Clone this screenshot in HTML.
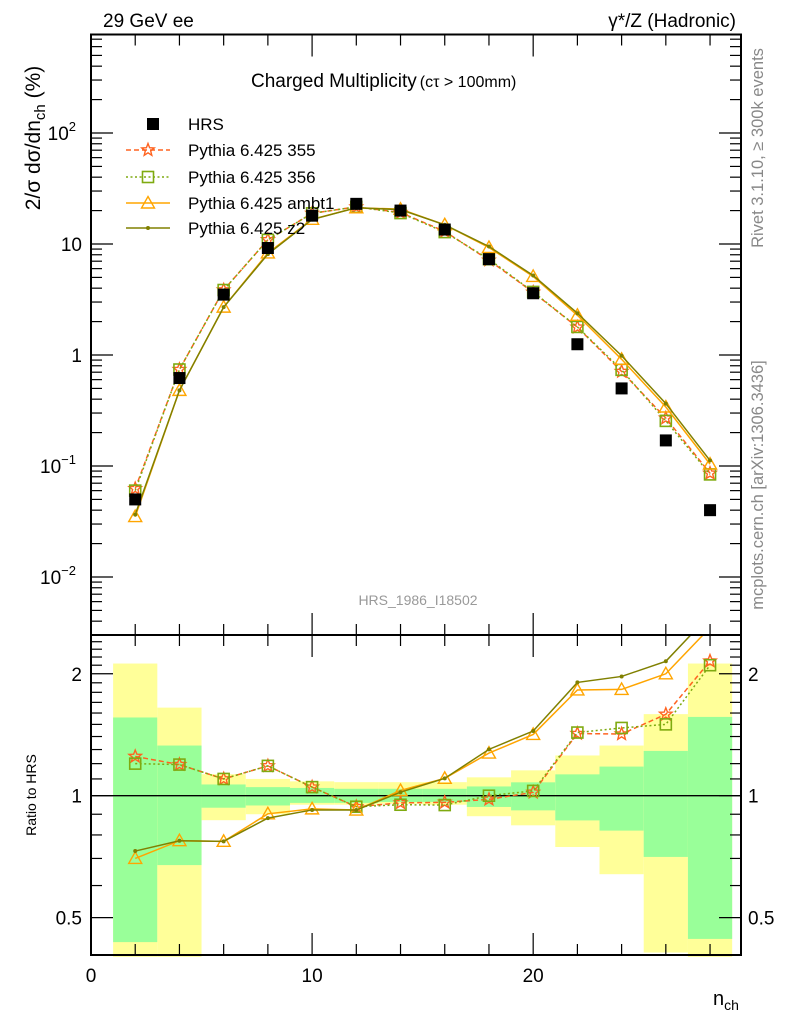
<!DOCTYPE html>
<html><head><meta charset="utf-8">
<style>
html,body{margin:0;padding:0;background:#fff;}
svg{display:block;font-family:"Liberation Sans",Arial,sans-serif;}
</style></head>
<body>
<svg id="chart" width="786" height="1024" viewBox="0 0 786 1024" xmlns="http://www.w3.org/2000/svg">
<g id="bands"></g>
<g id="series"></g>
<g id="axes"></g>
<text x="103" y="27" font-size="19">29 GeV ee</text>
<text x="736" y="27" font-size="19" text-anchor="end">γ*/Z (Hadronic)</text>
<text x="251" y="87" font-size="19">Charged Multiplicity<tspan font-size="16" dx="3">(cτ &gt; 100mm)</tspan></text>
<text transform="translate(40,138) rotate(-90)" font-size="21" text-anchor="middle">2/σ dσ/dn<tspan font-size="15" dy="5">ch</tspan><tspan dy="-5"> (%)</tspan></text>
<text transform="translate(36,795) rotate(-90)" font-size="14" text-anchor="middle">Ratio to HRS</text>
<text x="713" y="1005" font-size="20">n<tspan font-size="14" dy="5">ch</tspan></text>
<text transform="translate(763,148) rotate(-90)" font-size="16.5" fill="#888" text-anchor="middle">Rivet 3.1.10, ≥ 300k events</text>
<text transform="translate(763,485) rotate(-90)" font-size="16.5" fill="#888" text-anchor="middle">mcplots.cern.ch [arXiv:1306.3436]</text>
<text x="418" y="605" font-size="14" fill="#999" text-anchor="middle">HRS_1986_I18502</text>
<g id="legend"></g>
</svg>
<script>
const nch = [2,4,6,8,10,12,14,16,18,20,22,24,26,28];
const hrs = [0.05,0.62,3.5,9.2,18,23,20,13.5,7.3,3.6,1.25,0.5,0.17,0.04];
const py355 = [0.0625,0.74,3.85,10.9,18.9,21.6,19.2,13.0,7.15,3.67,1.78,0.71,0.27,0.086];
const py356 = [0.060,0.74,3.85,10.9,18.9,21.6,19.0,12.8,7.3,3.7,1.79,0.735,0.255,0.084];
const pyAmbt1 = [0.035,0.48,2.7,8.3,16.7,21.2,20.6,14.9,9.3,5.1,2.28,0.915,0.34,0.104];
const pyZ2 = [0.0365,0.48,2.7,8.1,16.6,21.2,20.4,14.9,9.5,5.2,2.38,0.985,0.365,0.112];
const yellowHi = [2.12,1.65,1.13,1.10,1.085,1.08,1.08,1.08,1.11,1.155,1.257,1.33,1.59,2.12];
const yellowLo = [0.3,0.3,0.87,0.90,0.95,0.95,0.955,0.95,0.89,0.845,0.747,0.64,0.41,0.3];
const greenHi = [1.56,1.33,1.066,1.05,1.045,1.04,1.04,1.04,1.054,1.079,1.129,1.18,1.29,1.565];
const greenLo = [0.435,0.674,0.934,0.946,0.96,0.96,0.965,0.965,0.938,0.92,0.869,0.82,0.706,0.443];
const xTickLabels = [0,10,20];
const NS='http://www.w3.org/2000/svg';
const L=91,R=741,T=34.5,MID=635,B=955;
const X0=0,X1=29.4;
function sx(v){return L+(v-X0)/(X1-X0)*(R-L);}
function sy(v){return 355-Math.log10(v)*111;}
function ry(v){return 795.7-Math.log10(v)*405;}
function mk(tag,attrs,parent){const e=document.createElementNS(NS,tag);for(const k in attrs)e.setAttribute(k,attrs[k]);parent.appendChild(e);return e;}
const bands=document.getElementById('bands'),ser=document.getElementById('series'),ax=document.getElementById('axes'),leg=document.getElementById('legend');
function clampR(v){return Math.max(0.4,Math.min(2.5,v));}
nch.forEach((n,i)=>{
  const x1=sx(n-1),x2=sx(n+1);
  let r=mk('rect',{x:x1,y:ry(clampR(yellowHi[i])),width:x2-x1,height:ry(clampR(yellowLo[i]))-ry(clampR(yellowHi[i])),fill:'#ffff99'},bands);
  
  
  let g=mk('rect',{x:x1,y:ry(clampR(greenHi[i])),width:x2-x1,height:ry(clampR(greenLo[i]))-ry(clampR(greenHi[i])),fill:'#99ff99'},bands);
  
  
});
let one=mk('line',{x1:L,x2:R,y1:ry(1),y2:ry(1),stroke:'#000','stroke-width':1.3},bands);


const defs=mk('defs',{},ser);
const c1=mk('clipPath',{id:'cTop'},defs);mk('rect',{x:L,y:T,width:R-L,height:MID-T},c1);
const c2=mk('clipPath',{id:'cBot'},defs);mk('rect',{x:L,y:MID,width:R-L,height:B-MID},c2);
function marker(kind,x,y,color,parent){
  let e;
  if(kind==='sq'){e=mk('rect',{x:x-6,y:y-6,width:12,height:12,fill:'#000'},parent);}
  else if(kind==='osq'){e=mk('rect',{x:x-5.5,y:y-5.5,width:11,height:11,fill:'none',stroke:color,'stroke-width':1.6},parent);}
  else if(kind==='tri'){e=mk('path',{d:`M${x},${y-6.5}L${x+6.5},${y+5}L${x-6.5},${y+5}Z`,fill:'none',stroke:color,'stroke-width':1.4},parent);}
  else if(kind==='star'){let p='';for(let k=0;k<10;k++){const a=-Math.PI/2+k*Math.PI/5,rr=k%2?2.8:6.5;p+=(k?'L':'M')+(x+rr*Math.cos(a)).toFixed(1)+','+(y+rr*Math.sin(a)).toFixed(1);}e=mk('path',{d:p+'Z',fill:'none',stroke:color,'stroke-width':1.4},parent);}
  else {e=mk('circle',{cx:x,cy:y,r:2,fill:color},parent);}
  return e;
}
const mcs=[
 {name:'355',vals:py355,color:'#ff6320',dash:'5,3',m:'star'},
 {name:'356',vals:py356,color:'#7faa10',dash:'2,2.5',m:'osq'},
 {name:'ambt1',vals:pyAmbt1,color:'#ffa500',dash:'',m:'tri'},
 {name:'z2',vals:pyZ2,color:'#808000',dash:'',m:'dot'}
];
const gT=mk('g',{'clip-path':'url(#cTop)'},ser),gB=mk('g',{'clip-path':'url(#cBot)'},ser);
mcs.forEach(s=>{
  const pts=nch.map((n,i)=>sx(n)+','+sy(s.vals[i])).join(' ');
  let pl=mk('polyline',{points:pts,fill:'none',stroke:s.color,'stroke-width':1.5,'stroke-dasharray':s.dash},gT);
  
  
  const rp=nch.map((n,i)=>sx(n)+','+ry(s.vals[i]/hrs[i])).join(' ');
  let rl=mk('polyline',{points:rp,fill:'none',stroke:s.color,'stroke-width':1.5,'stroke-dasharray':s.dash},gB);
  
  
  nch.forEach((n,i)=>{
    let a=marker(s.m,sx(n),sy(s.vals[i]),s.color,gT);
    
    
    let b=marker(s.m,sx(n),ry(s.vals[i]/hrs[i]),s.color,gB);
    
    
  });
});
nch.forEach((n,i)=>{
  let h=marker('sq',sx(n),sy(hrs[i]),'#000',gT);
  
  
});
mk('rect',{x:L,y:T,width:R-L,height:MID-T,fill:'none',stroke:'#000','stroke-width':2},ax);
mk('rect',{x:L,y:MID,width:R-L,height:B-MID,fill:'none',stroke:'#000','stroke-width':2},ax);
for(let v=0;v<=29;v+=2){
  const big=v%10===0,len=big?22:11,x=sx(v);
  mk('line',{x1:x,x2:x,y1:B,y2:B-len,stroke:'#000','stroke-width':1.2},ax);
  mk('line',{x1:x,x2:x,y1:MID,y2:MID+len,stroke:'#000','stroke-width':1.2},ax);
  mk('line',{x1:x,x2:x,y1:MID,y2:MID-len,stroke:'#000','stroke-width':1.2},ax);
  mk('line',{x1:x,x2:x,y1:T,y2:T+len,stroke:'#000','stroke-width':1.2},ax);
}
xTickLabels.forEach(v=>{let t=mk('text',{x:sx(v),y:982,'font-size':19,'text-anchor':'middle'},ax);t.textContent=v;

});
for(let d=-3;d<=2;d++){for(let k=1;k<=9;k++){const v=k*Math.pow(10,d),y=sy(v);if(y<T||y>MID)continue;const len=k===1?22:11;
 mk('line',{x1:L,x2:L+len,y1:y,y2:y,stroke:'#000','stroke-width':1.2},ax);
 mk('line',{x1:R,x2:R-len,y1:y,y2:y,stroke:'#000','stroke-width':1.2},ax);}}
const yl=[['10','2',2],['10','',1],['1','',0],['10','−1',-1],['10','−2',-2]];
yl.forEach(([b,e,d])=>{let t=mk('text',{x:e?76:82,y:sy(Math.pow(10,d))+7,'font-size':19,'text-anchor':'end'},ax);
 t.textContent=b; if(e){const s=mk('tspan',{dy:-9,'font-size':13},t);s.textContent=e;}
 
 });
[0.4,0.5,0.6,0.7,0.8,0.9,1,1.1,1.2,1.3,1.4,1.5,1.6,1.7,1.8,1.9,2,2.1,2.2,2.3,2.4,2.5].forEach(v=>{const y=ry(v);if(y<MID||y>B)return;const big=(v===0.5||v===1||v===2);const len=big?22:11;
 mk('line',{x1:L,x2:L+len,y1:y,y2:y,stroke:'#000','stroke-width':1.2},ax);
 mk('line',{x1:R,x2:R-len,y1:y,y2:y,stroke:'#000','stroke-width':1.2},ax);});
[['2',2],['1',1],['0.5',0.5]].forEach(([s,v])=>{
 let t=mk('text',{x:82,y:ry(v)+7,'font-size':19,'text-anchor':'end'},ax);t.textContent=s;
 
 
 let t2=mk('text',{x:748,y:ry(v)+7,'font-size':19},ax);t2.textContent=s;
 
 });
const legRows=[['HRS',124,null],['Pythia 6.425 355',150,mcs[0]],['Pythia 6.425 356',177,mcs[1]],['Pythia 6.425 ambt1',203,mcs[2]],['Pythia 6.425 z2',228,mcs[3]]];
legRows.forEach(([lab,y,s])=>{
 const g=mk('g',{},leg);
 
 
 if(!s){marker('sq',153,y,'#000',g);}
 else{mk('line',{x1:126,x2:170,y1:y,y2:y,stroke:s.color,'stroke-width':1.5,'stroke-dasharray':s.dash},g);marker(s.m,148,y,s.color,g);}
 const t=mk('text',{x:188,y:y+6,'font-size':17},g);t.textContent=lab;
});
</script>
</body></html>
